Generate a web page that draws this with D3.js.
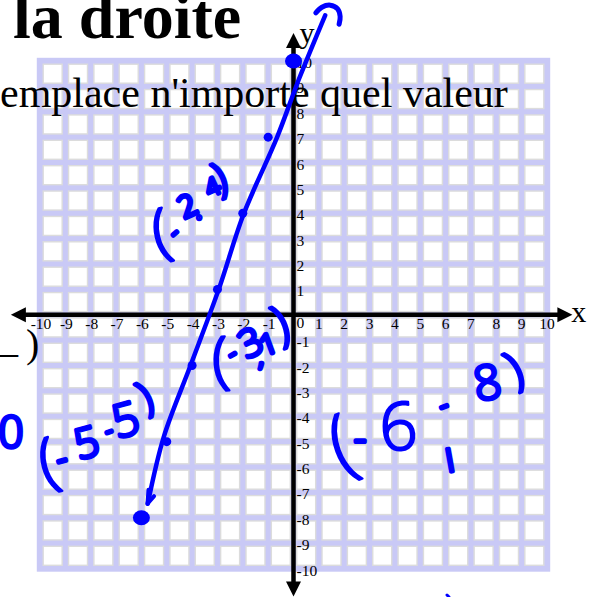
<!DOCTYPE html>
<html>
<head>
<meta charset="utf-8">
<script src="https://cdn.jsdelivr.net/npm/d3@7"></script>
<style>
  html, body { margin: 0; padding: 0; background: #fff; }
  svg { display: block; }
</style>
</head>
<body>
<script>
// ---- data -------------------------------------------------------------
const xTickValues = d3.range(-10, 11).filter(d => d !== 0);
const yTickValues = d3.range(-10, 11).filter(d => d !== 0);
const axisXExtent = [-11.15, 11.0];                    // arrow tips on the x axis
const axisYExtent = [-11.1, 11.1];                     // arrow tips on the y axis

// hand-drawn line y = 3x + 10 (as traced by pen)
const penLine = [[-5.75, -7.45], [-5.12, -4.82], [-4.06, -1.99], [-2.95, 1.0],
                 [-1.97, 3.96], [-0.65, 6.99], [0.22, 9.3], [1.25, 11.8]];
const penHookTop = [[0.88, 11.9], [1.12, 12.12], [1.45, 12.2], [1.74, 12.05],
                    [1.84, 11.75], [1.8, 11.45]];
const penArrowBottom = [[-5.72, -6.9], [-5.76, -7.45], [-5.5, -7.15]];
const pointsOnLine = [[-1, 7], [-2, 4], [-3, 1], [-4, -2], [-5, -5]];
const bigDots = [[-6, -8], [0, 10]];

// handwritten coordinate notes: glyph, centre x, centre y, size, rotation
const notes = [
  ["(", 160, 229, 62, -13], ["-", 173, 231, 22, -40], ["2", 187, 205, 30, -25],
  [".", 199, 207, 30, 0], ["4", 212, 186, 24, -25], [")", 219, 176, 42, -20],

  ["(", 220, 357, 62, -5], ["-", 231, 352, 24, -30], ["3", 250, 341, 38, -25],
  [",", 261, 356, 24, 0], ["1", 268, 343, 28, -20], [")", 280, 322, 50, -20],

  ["0", 11, 431, 44, 0], ["(", 47, 459, 64, -15], ["-", 61, 457, 32, -15],
  ["5", 86, 441, 42, -15], ["-", 108, 429, 22, -20], ["5", 125, 418, 46, -15],
  [")", 144, 395, 42, -25],

  ["(", 340, 440, 80, -20], ["-", 360, 437, 38, 0], ["6", 398, 424, 66, -5],
  ["-", 443, 404, 26, -20], ["ı", 449, 455, 44, -10], ["8", 487, 381, 48, -10],
  [")", 513, 367, 48, -25]
];

// ---- layout -----------------------------------------------------------
const W = 593, H = 597;
const x = d3.scaleLinear().domain([-10, 10]).range([40, 547]);
const y = d3.scaleLinear().domain([-10, 10]).range([568.5, 61]);
const INK = "#0000ff";
const serif = "'Liberation Serif', 'Times New Roman', serif";
const hand = "'Open Sans', 'DejaVu Sans', sans-serif";

const svg = d3.select("body").append("svg")
  .attr("width", W).attr("height", H)
  .attr("viewBox", `0 0 ${W} ${H}`);

// ---- grid paper -------------------------------------------------------
const band = 3.2;
svg.append("rect")
  .attr("x", x(-10) - band).attr("y", y(10) - band)
  .attr("width", x(10) - x(-10) + 2 * band)
  .attr("height", y(-10) - y(10) + 2 * band)
  .attr("fill", "#c9c9f6");

const cells = [];
for (let i = -10; i < 10; i++) for (let j = -10; j < 10; j++) cells.push([i, j]);
svg.append("g").selectAll("rect").data(cells).join("rect")
  .attr("x", d => x(d[0]) + band)
  .attr("y", d => y(d[1] + 1) + band)
  .attr("width", d => x(d[0] + 1) - x(d[0]) - 2 * band)
  .attr("height", d => y(d[1]) - y(d[1] + 1) - 2 * band)
  .attr("fill", "#fff")
  .attr("stroke", "#dcdcdc")
  .attr("stroke-width", 1.4);

// ---- worksheet text ---------------------------------------------------
svg.append("text").text("la droite")
  .attr("x", 13).attr("y", 38)
  .attr("font-family", serif).attr("font-weight", "bold")
  .attr("font-size", 64).attr("fill", "#000");

svg.append("text").text("emplace n'importe quel valeur")
  .attr("x", 0).attr("y", 107)
  .attr("font-family", serif).attr("font-size", 42).attr("fill", "#000");

svg.append("text").text("_")
  .attr("x", -2).attr("y", 352)
  .attr("font-family", serif).attr("font-size", 40).attr("fill", "#000");
svg.append("text").text(")")
  .attr("x", 26).attr("y", 357)
  .attr("font-family", serif).attr("font-size", 40).attr("fill", "#000");

// ---- axes -------------------------------------------------------------
const axes = svg.append("g");
axes.append("line")
  .attr("x1", x(axisXExtent[0]) + 8).attr("x2", x(axisXExtent[1]) - 8)
  .attr("y1", y(0)).attr("y2", y(0))
  .attr("stroke", "#000").attr("stroke-width", 4.5);
axes.append("line")
  .attr("x1", x(0)).attr("x2", x(0))
  .attr("y1", y(axisYExtent[1]) + 8).attr("y2", y(axisYExtent[0]) - 8)
  .attr("stroke", "#000").attr("stroke-width", 4.5);

const L = 15, Hw = 7.5;
const tipL = [x(axisXExtent[0]), y(0)], tipR = [x(axisXExtent[1]), y(0)];
const tipT = [x(0), y(axisYExtent[1])], tipB = [x(0), y(axisYExtent[0])];
const heads = [
  [tipL, [tipL[0] + L, tipL[1] - Hw], [tipL[0] + L, tipL[1] + Hw]],
  [tipR, [tipR[0] - L, tipR[1] - Hw], [tipR[0] - L, tipR[1] + Hw]],
  [tipT, [tipT[0] - Hw, tipT[1] + L], [tipT[0] + Hw, tipT[1] + L]],
  [tipB, [tipB[0] - Hw, tipB[1] - L], [tipB[0] + Hw, tipB[1] - L]]
];
axes.selectAll("path").data(heads).join("path")
  .attr("d", d => d3.line()(d) + "Z").attr("fill", "#000");

axes.append("text").text("x")
  .attr("x", tipR[0] - 1).attr("y", y(0) + 7)
  .attr("font-family", serif).attr("font-size", 30).attr("fill", "#000");
axes.append("text").text("y")
  .attr("x", x(0) + 6).attr("y", tipT[1] + 10)
  .attr("font-family", serif).attr("font-size", 30).attr("fill", "#000");

// tick labels
axes.append("g").selectAll("text").data(xTickValues).join("text")
  .text(d => d)
  .attr("x", d => x(d) + (d < 0 ? 1 : 0))
  .attr("y", y(0) + 14)
  .attr("text-anchor", "middle")
  .attr("font-family", serif).attr("font-size", 15.5).attr("fill", "#000");
axes.append("g").selectAll("text").data(yTickValues).join("text")
  .text(d => d)
  .attr("x", x(0) + 3)
  .attr("y", d => y(d) + 7)
  .attr("font-family", serif).attr("font-size", 15.5).attr("fill", "#000");
axes.append("text").text("0")
  .attr("x", x(0) + 3).attr("y", y(0) + 13)
  .attr("font-family", serif).attr("font-size", 15.5).attr("fill", "#000");

// ---- pen ink ----------------------------------------------------------
const ink = svg.append("g")
  .attr("fill", "none").attr("stroke", INK)
  .attr("stroke-linecap", "round").attr("stroke-linejoin", "round");

const penPath = d3.line().x(d => x(d[0])).y(d => y(d[1])).curve(d3.curveCatmullRom);
ink.append("path").attr("d", penPath(penLine)).attr("stroke-width", 4.5);
ink.append("path").attr("d", penPath(penHookTop)).attr("stroke-width", 5);
ink.append("path").attr("d", d3.line().x(d => x(d[0])).y(d => y(d[1]))(penArrowBottom))
  .attr("stroke-width", 4);

ink.append("g").selectAll("circle").data(pointsOnLine).join("circle")
  .attr("cx", d => x(d[0])).attr("cy", d => y(d[1]))
  .attr("r", 4.5).attr("fill", INK).attr("stroke", "none");

ink.append("g").selectAll("ellipse").data(bigDots).join("ellipse")
  .attr("cx", d => x(d[0])).attr("cy", d => y(d[1]))
  .attr("rx", 8.5).attr("ry", 7.5).attr("fill", INK).attr("stroke", "none");

// little stray mark at the bottom of the page
ink.append("path").attr("d", `M447,595 L449,597`).attr("stroke-width", 3);

// handwritten coordinates: light glyphs thickened to an even pen width
svg.append("g").selectAll("text").data(notes).join("text")
  .text(d => d[0])
  .attr("transform", d => `translate(${d[1]},${d[2]}) rotate(${d[4]})`)
  .attr("text-anchor", "middle")
  .attr("dominant-baseline", "central")
  .attr("font-family", hand)
  .attr("font-weight", 300)
  .attr("font-size", d => d[3])
  .attr("fill", INK)
  .attr("stroke", INK)
  .attr("stroke-width", d => Math.min(4.5, Math.max(1.8, 6.8 - 0.07 * d[3])))
  .attr("stroke-linejoin", "round")
  .attr("stroke-linecap", "round");
</script>
</body>
</html>
